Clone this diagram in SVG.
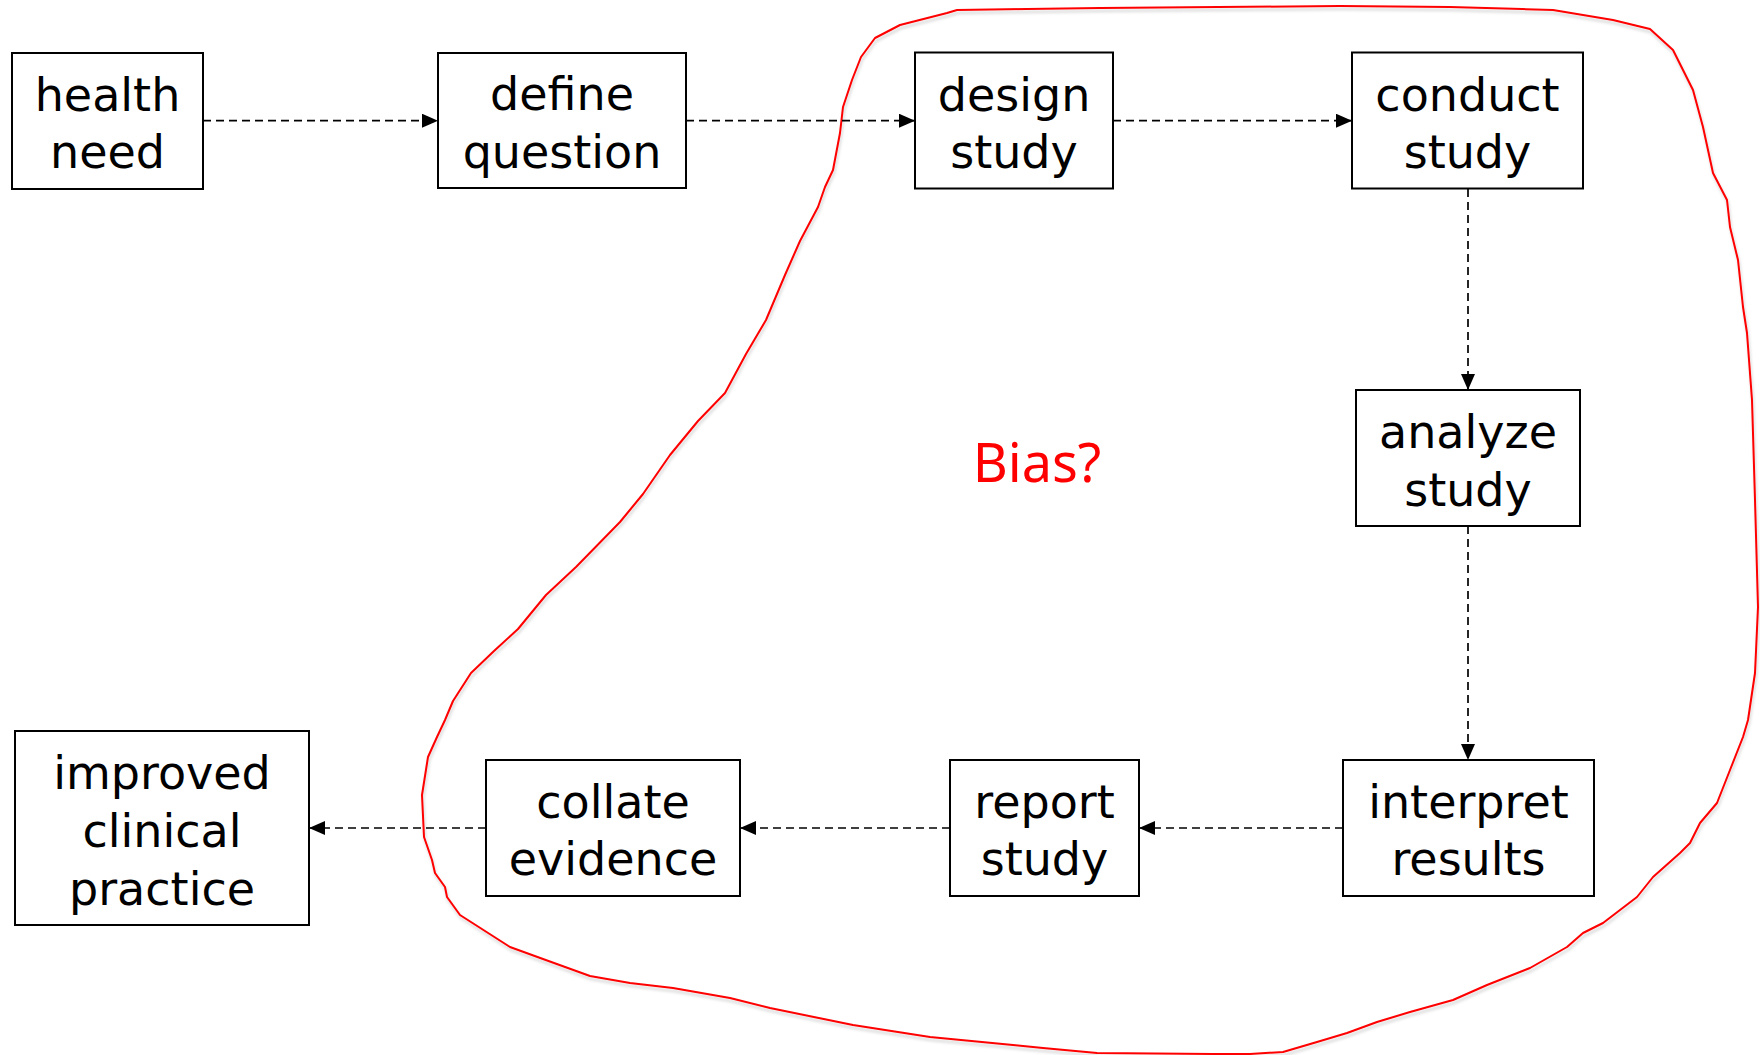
<svg xmlns="http://www.w3.org/2000/svg" width="1760" height="1055" viewBox="0 0 1760 1055">
<defs>
<style>
.box{fill:#fff;stroke:#000;stroke-width:2}
.lbl{font-family:"DejaVu Sans",Verdana,sans-serif;font-size:46px;fill:#000;text-anchor:middle}
.con{fill:none;stroke:#000;stroke-width:1.7;stroke-dasharray:8 5}
.loop{fill:none;stroke:#f00;stroke-width:2;stroke-linejoin:round}
.bias{font-family:"Noto Sans","Open Sans",sans-serif;font-size:54px;fill:#f00;text-anchor:middle}
</style>
<marker id="ah" markerUnits="userSpaceOnUse" markerWidth="16" markerHeight="14" refX="16" refY="7" orient="auto">
<path d="M0,0 L16,7 L0,14 Z" fill="#000"/>
</marker>
<filter id="sh" x="-5%" y="-5%" width="110%" height="110%">
<feDropShadow dx="1" dy="3" stdDeviation="1.5" flood-color="#000" flood-opacity="0.18"/>
</filter>
</defs>
<rect width="1760" height="1055" fill="#fff"/>
<g id="loop">
<path class="loop" filter="url(#sh)" d="M957,10 L1100,8 L1340,6 L1450,7 L1553,10 L1613,20 L1650,29 L1673,50 L1693,90 L1703,127 L1713,173 L1727,200 L1730,227 L1738,260 L1743,307 L1747,333 L1752,400 L1755,500 L1758,607 L1755,673 L1748,720 L1743,737 L1730,770 L1717,803 L1700,823 L1690,843 L1680,853 L1653,877 L1637,897 L1603,923 L1583,933 L1567,947 L1530,968 L1487,985 L1453,1000 L1410,1012 L1377,1022 L1347,1033 L1317,1042 L1283,1052 L1250,1054 L1213,1054 L1097,1053 L1043,1048 L1013,1045 L930,1037 L853,1025 L770,1008 L730,998 L673,988 L630,983 L590,976 L543,959 L510,947 L460,915 L447,897 L445,887 L435,873 L432,860 L424,837 L422,795 L428,757 L437,737 L445,720 L453,701 L471,673 L494,651 L518,629 L546,595 L576,567 L620,522 L643,494 L670,455 L698,421 L725,393 L746,354 L766,320 L785,275 L800,241 L818,207 L825,187 L833,170 L840,133 L843,107 L852,80 L861,57 L875,38 L900,25 L947,13 Z"/>
</g>
<g id="connectors">
<line class="con" x1="203" y1="120.7" x2="438" y2="120.7" marker-end="url(#ah)"/>
<line class="con" x1="686" y1="120.7" x2="915" y2="120.7" marker-end="url(#ah)"/>
<line class="con" x1="1113" y1="120.7" x2="1352" y2="120.7" marker-end="url(#ah)"/>
<line class="con" x1="1468" y1="189" x2="1468" y2="390" marker-end="url(#ah)"/>
<line class="con" x1="1468" y1="526" x2="1468" y2="760" marker-end="url(#ah)"/>
<line class="con" x1="1343" y1="828" x2="1139" y2="828" marker-end="url(#ah)"/>
<line class="con" x1="950" y1="828" x2="740" y2="828" marker-end="url(#ah)"/>
<line class="con" x1="486" y1="828" x2="309" y2="828" marker-end="url(#ah)"/>
</g>
<g id="health-need">
<rect class="box" x="12" y="53" width="191" height="136"/>
<text class="lbl" x="107.5" y="111">health</text>
<text class="lbl" x="107.5" y="168">need</text>
</g>
<g id="define-question">
<rect class="box" x="438" y="53" width="248" height="135"/>
<text class="lbl" x="562" y="110">define</text>
<text class="lbl" x="562" y="167.5">question</text>
</g>
<g id="design-study">
<rect class="box" x="915" y="52.5" width="198" height="136"/>
<text class="lbl" x="1014" y="110.5">design</text>
<text class="lbl" x="1014" y="167.5">study</text>
</g>
<g id="conduct-study">
<rect class="box" x="1352" y="52.5" width="231" height="136"/>
<text class="lbl" x="1467.5" y="110.5">conduct</text>
<text class="lbl" x="1467.5" y="167.5">study</text>
</g>
<g id="analyze-study">
<rect class="box" x="1356" y="390" width="224" height="136"/>
<text class="lbl" x="1468" y="448">analyze</text>
<text class="lbl" x="1468" y="505.5">study</text>
</g>
<g id="interpret-results">
<rect class="box" x="1343" y="760" width="251" height="136"/>
<text class="lbl" x="1468.5" y="817.5">interpret</text>
<text class="lbl" x="1468.5" y="875">results</text>
</g>
<g id="report-study">
<rect class="box" x="950" y="760" width="189" height="136"/>
<text class="lbl" x="1044.5" y="817.5">report</text>
<text class="lbl" x="1044.5" y="875">study</text>
</g>
<g id="collate-evidence">
<rect class="box" x="486" y="760" width="254" height="136"/>
<text class="lbl" x="613" y="817.5">collate</text>
<text class="lbl" x="613" y="875">evidence</text>
</g>
<g id="improved-clinical-practice">
<rect class="box" x="15" y="731" width="294" height="194"/>
<text class="lbl" x="162" y="789">improved</text>
<text class="lbl" x="162" y="847">clinical</text>
<text class="lbl" x="162" y="904.5">practice</text>
</g>
<g id="bias">
<text class="bias" x="1037" y="482">Bias?</text>
</g>
</svg>
